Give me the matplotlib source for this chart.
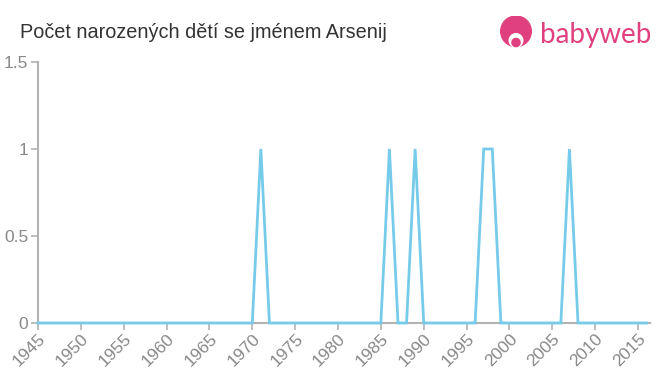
import matplotlib
matplotlib.use("Agg")
import matplotlib.pyplot as plt
from matplotlib.patches import Circle

plt.rcParams['font.family'] = ['Liberation Sans', 'DejaVu Sans']

years = list(range(1945, 2017))
peak_years = [1971, 1986, 1989, 1997, 1998, 2007]
counts = [1 if y in peak_years else 0 for y in years]
x_ticks = list(range(1945, 2016, 5))
y_ticks = [0, 0.5, 1, 1.5]
y_tick_labels = ["0", "0.5", "1", "1.5"]

fig = plt.figure(figsize=(6.6, 3.75), dpi=100)
ax = fig.add_axes([38/660, 1 - 323/375, (650-38)/660, (323-62)/375])

ax.plot(years, counts, color="#76cbea", linewidth=2, solid_joinstyle="miter", clip_on=False, zorder=3)

ax.set_xlim(1945, 2016.4)
ax.set_ylim(0, 1.5)
ax.set_xticks(x_ticks)
ax.set_xticklabels([str(t) for t in x_ticks], rotation=45, ha="right", rotation_mode="anchor")
ax.set_yticks(y_ticks)
ax.set_yticklabels(y_tick_labels)

grey = "#b3b3b3"
for s in ["top", "right"]:
    ax.spines[s].set_visible(False)
for s in ["left", "bottom"]:
    ax.spines[s].set_color(grey)
    ax.spines[s].set_linewidth(1.5)
ax.tick_params(axis="both", colors=grey, labelcolor="#888888", labelsize=12.5, length=5, width=1.2)
ax.tick_params(axis="x", pad=1)
ax.tick_params(axis="y", pad=2)

fig.text(20/660, 1 - 32/375, "Počet narozených dětí se jménem Arsenij", fontsize=14.3,
         color="#333333", va="center", ha="left")

pink = "#e0407f"
fig.text(540/660, 1 - 35/375, "babyweb", fontsize=20, color=pink, va="center", ha="left",
         fontweight="normal", family=["Lato", "DejaVu Sans"])
logo_ax = fig.add_axes([499/660, 1 - 50/375, 34/660, 34/375])
logo_ax.set_xlim(0, 1)
logo_ax.set_ylim(0, 1)
logo_ax.set_aspect("equal")
logo_ax.axis("off")
logo_ax.add_patch(Circle((0.5, 0.55), 0.45, color=pink))
logo_ax.add_patch(Circle((0.5, 0.28), 0.2, color="white"))
logo_ax.add_patch(Circle((0.5, 0.22), 0.12, color=pink))

fig.savefig("out.png", dpi=100)
